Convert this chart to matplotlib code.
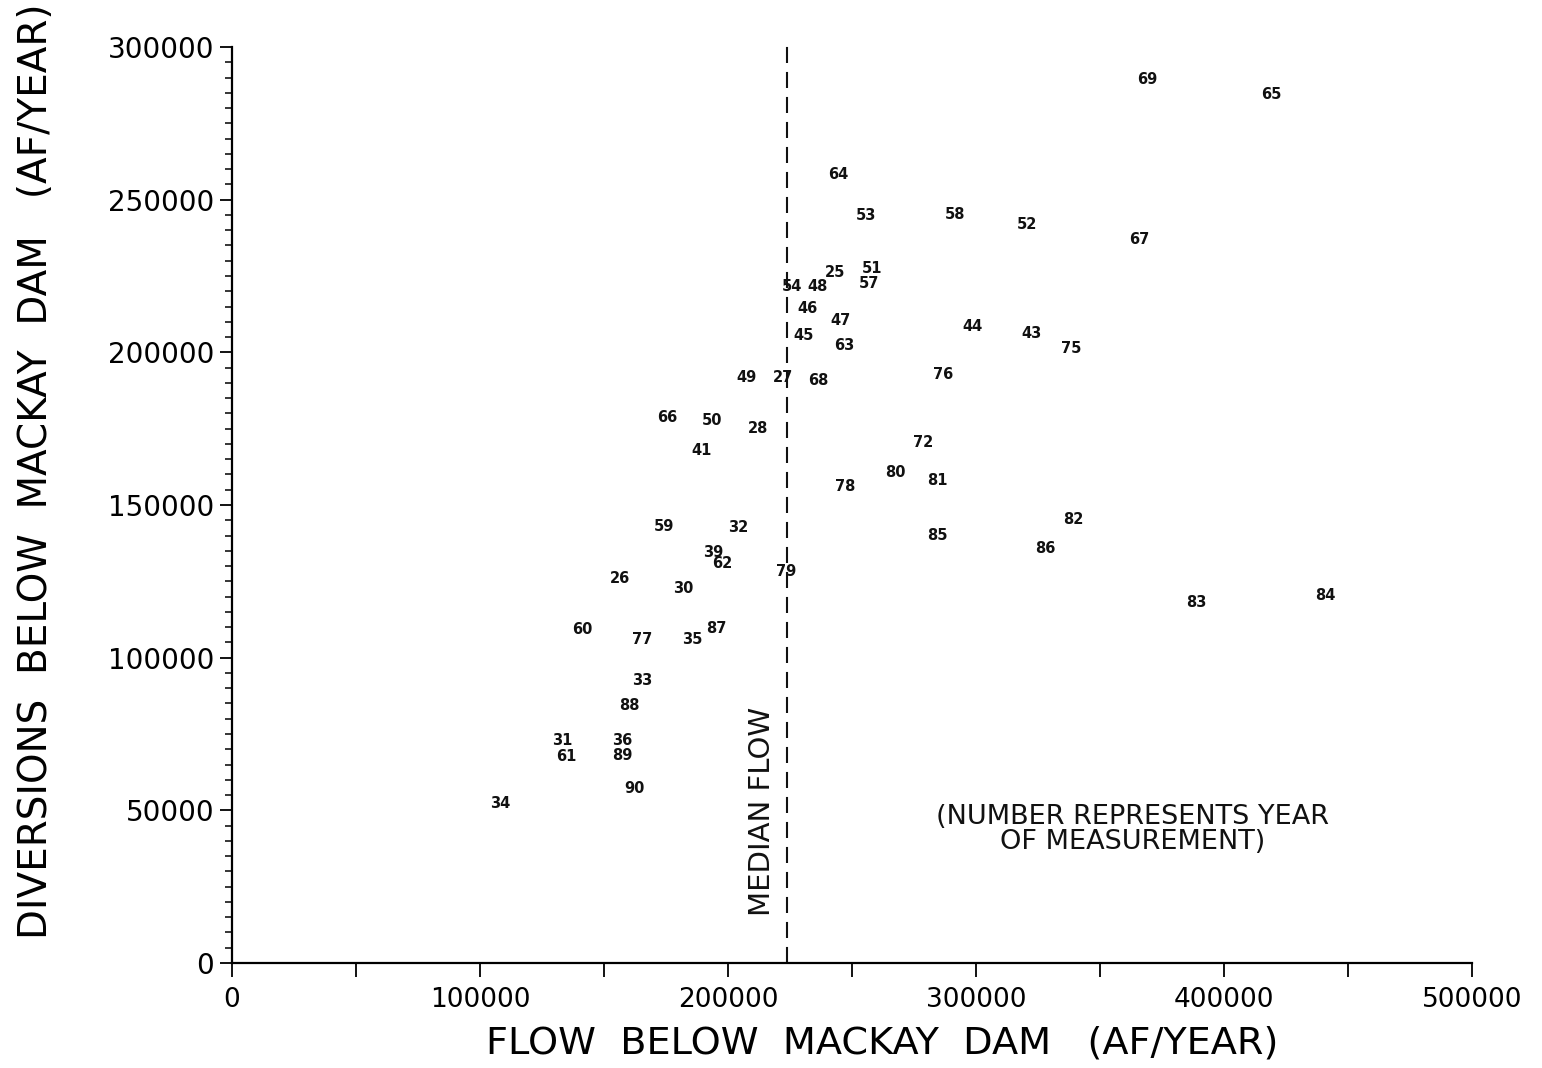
import matplotlib
matplotlib.use("Agg")
import matplotlib.pyplot as plt
from matplotlib.ticker import MultipleLocator

# year of measurement, flow below Mackay Dam, diversions below Mackay Dam (AF/year)
years = ["69", "65", "64", "53", "58", "52", "67", "25", "51", "57", "54", "48",
         "46", "47", "44", "43", "45", "63", "75", "76", "49", "27", "68", "66",
         "50", "28", "72", "41", "80", "81", "78", "82", "59", "32", "85", "86",
         "39", "62", "79", "26", "30", "83", "84", "60", "87", "77", "35", "33",
         "88", "31", "36", "61", "89", "90", "34"]
flow = [369000, 419000, 244400, 255600, 291500, 320600, 365700, 243100, 258100, 256900,
        225800, 236300, 231900, 245200, 298400, 322200, 230600, 246800, 338300, 286700,
        207300, 222200, 236300, 175400, 193500, 212100, 278600, 189500, 267300, 284300,
        247200, 339100, 174200, 204000, 284300, 327800, 194000, 197600, 223400, 156500,
        181900, 388700, 440700, 141100, 195200, 165300, 185500, 165300, 160100, 133100,
        157300, 134700, 157300, 162100, 108100]
diversions = [289500, 284600, 258100, 244700, 245300, 242000, 237100, 226000, 227300, 222700,
              221400, 221400, 214200, 210300, 208300, 206300, 205400, 202400, 201100, 192600,
              191600, 191900, 190900, 178800, 177800, 174900, 170600, 167700, 160500, 157900,
              156200, 145400, 142800, 142500, 139900, 135900, 134600, 131000, 128100, 125800,
              122500, 118200, 120500, 109100, 109400, 106100, 105800, 92400, 84500, 73000,
              73000, 67500, 67800, 57000, 52100]
median_flow = 223800

fig = plt.figure(figsize=(15.42, 10.68), dpi=100)
ax = fig.add_axes([0.1505, 0.0983, 0.8041, 0.8577])

for yr, fx, dv in zip(years, flow, diversions):
    ax.text(fx, dv, yr, ha="center", va="center", fontsize=10.5,
            fontweight="bold", color="#111111")

ax.plot([median_flow, median_flow], [0, 301500], color="#111111", lw=1.5,
        dashes=(7.7, 4.3), clip_on=False)
ax.text(213700, 49500, "MEDIAN FLOW", rotation=90, ha="center", va="center",
        fontsize=21, color="#111111")
ax.text(363300, 43600, "(NUMBER REPRESENTS YEAR\nOF MEASUREMENT)", ha="center",
        va="center", fontsize=19.5, color="#111111", linespacing=0.95)

ax.set_xlim(0, 500000)
ax.set_ylim(0, 300000)
ax.spines["top"].set_visible(False)
ax.spines["right"].set_visible(False)
ax.spines["left"].set_linewidth(1.6)
ax.spines["bottom"].set_linewidth(1.6)

ax.xaxis.set_major_locator(MultipleLocator(100000))
ax.xaxis.set_minor_locator(MultipleLocator(50000))
ax.yaxis.set_major_locator(MultipleLocator(50000))
ax.yaxis.set_minor_locator(MultipleLocator(5000))
ax.tick_params(axis="x", which="both", direction="out", length=10, width=1.3, pad=7)
ax.tick_params(axis="y", which="major", direction="out", length=9, width=1.3, pad=4)
ax.tick_params(axis="y", which="minor", direction="out", length=5, width=1.1)

ax.set_xticks([0, 100000, 200000, 300000, 400000, 500000])
ax.set_xticklabels(["0", "100000", "200000", "300000", "400000", "500000"], fontsize=19)
ax.set_yticks([0, 50000, 100000, 150000, 200000, 250000, 300000])
ax.set_yticklabels(["0", "50000", "100000", "150000", "200000", "250000", "300000"],
                   fontsize=20)

ax.set_xlabel("FLOW  BELOW  MACKAY  DAM   (AF/YEAR)", fontsize=27.5)
ax.set_ylabel("DIVERSIONS  BELOW  MACKAY  DAM   (AF/YEAR)", fontsize=28)
ax.yaxis.set_label_coords(-0.143, 0.537)
ax.xaxis.set_label_coords(0.524, -0.068)

fig.savefig("out.png", dpi=100)
